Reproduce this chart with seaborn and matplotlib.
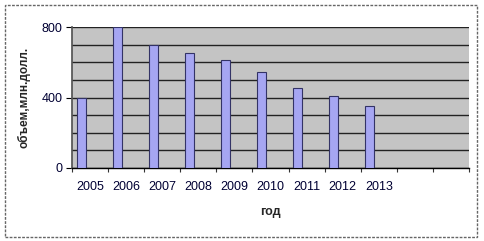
import matplotlib
matplotlib.use("Agg")
import matplotlib.pyplot as plt
import seaborn as sns
import pandas as pd
from matplotlib.patches import Rectangle

years = ["2005", "2006", "2007", "2008", "2009", "2010", "2011", "2012", "2013", " ", "  "]
values = [400, 800, 700, 650, 610, 545, 452, 407, 350]
series_levels = ["s1", "s2", "s3"]
y_ticks = [0, 400, 800]

sns.set_theme(style="white")
plt.rcParams["font.family"] = ["Liberation Sans", "DejaVu Sans"]

rows = []
for y, v in zip(years, values):
    rows.append({"год": y, "v": v, "s": "s1"})
    rows.append({"год": y, "v": 0, "s": "s2"})
    rows.append({"год": y, "v": 0, "s": "s3"})
df = pd.DataFrame(rows)

fig = plt.figure(figsize=(4.84, 2.41), dpi=100)
ax = fig.add_axes([72/484, 1 - 168/241, (469 - 72)/484, (168 - 27)/241])
ax.set_facecolor("#c4c4c4")

sns.barplot(data=df, x="год", y="v", hue="s", order=years, hue_order=series_levels,
            width=0.75, palette=["#9999ff"] * 3, edgecolor="#333366",
            linewidth=0.8, legend=False, ax=ax, zorder=3)
for p in ax.patches:
    if p.get_height() == 0:
        p.set_visible(False)

ax.set_ylim(0, 800)
ax.set_xlim(-0.5, len(years) - 0.5)
ax.set_yticks(y_ticks)
ax.set_yticks(range(0, 801, 100), minor=True)
ax.yaxis.grid(True, which="both", color="#222222", linewidth=1.0, zorder=1)
ax.set_axisbelow(True)
ax.tick_params(axis="y", which="major", length=4, width=0.8, color="black", labelsize=9,
               labelcolor="#000033", pad=3, left=True)
ax.tick_params(axis="y", which="minor", length=0)
ax.set_xticks(range(len(years)))
ax.set_xticklabels(years)
ax.tick_params(axis="x", length=0, labelsize=9, labelcolor="#000033", pad=9)
ax.set_xticks([i - 0.5 for i in range(len(years) + 1)], minor=True)
ax.tick_params(axis="x", which="minor", length=3, width=0.8, color="#333333", bottom=True)

for side in ["top", "right"]:
    ax.spines[side].set_visible(False)
ax.spines["left"].set_color("#555555")
ax.spines["bottom"].set_color("black")
ax.spines["bottom"].set_linewidth(1.0)

ax.set_ylabel("объем,млн.долл.", fontsize=8.5, fontweight="bold", labelpad=8)
ax.set_xlabel("год", fontsize=9, fontweight="bold", labelpad=10)

fig.patches.append(Rectangle((5/484, 4/241), (477 - 5)/484, (236 - 4)/241,
                             transform=fig.transFigure, fill=False,
                             edgecolor="#666666", linestyle=(0, (2, 1)), linewidth=1.0))

fig.savefig("out.png", dpi=100)
